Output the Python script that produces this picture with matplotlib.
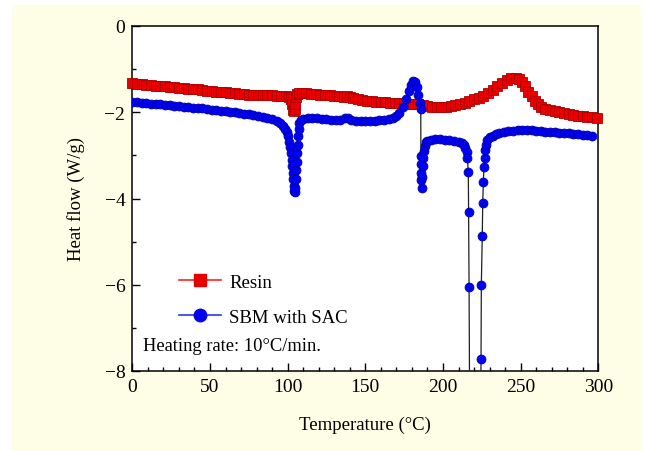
import matplotlib
matplotlib.use("Agg")
import matplotlib.pyplot as plt
from matplotlib.lines import Line2D
from matplotlib.patches import Rectangle
from matplotlib.ticker import MultipleLocator

# ---------------- data ----------------
resin_T = [0, 3, 6, 9, 12, 15, 18, 21, 24, 27, 30, 33, 36, 39, 42, 45, 48, 51, 54, 57,
           60, 63, 66, 69, 72, 75, 78, 81, 84, 87, 90, 93, 96, 99, 101, 102, 103, 103.5,
           104, 104.5, 105, 105.5, 106, 107, 109, 112, 115, 118, 121, 124, 127, 130, 133,
           136, 138, 140, 142, 145, 148, 151, 154, 157, 160, 163, 166, 169, 172, 175, 178,
           181, 184, 187, 190, 193, 196, 199, 202, 205, 208, 211, 214, 217, 220, 223, 226,
           229, 232, 235, 238, 241, 244, 247, 249, 251, 253, 255, 257, 259, 261, 263, 266,
           269, 272, 275, 278, 281, 284, 287, 290, 293, 296, 299]
resin_H = [-1.33, -1.34, -1.35, -1.36, -1.37, -1.38, -1.39, -1.40, -1.41, -1.42, -1.43,
           -1.44, -1.45, -1.46, -1.47, -1.48, -1.50, -1.51, -1.52, -1.53, -1.54, -1.55,
           -1.56, -1.57, -1.58, -1.59, -1.60, -1.60, -1.61, -1.61, -1.61, -1.62, -1.62,
           -1.62, -1.64, -1.70, -1.82, -1.95, -1.98, -1.92, -1.80, -1.65, -1.58, -1.56,
           -1.55, -1.56, -1.57, -1.58, -1.59, -1.60, -1.61, -1.62, -1.63, -1.64, -1.62,
           -1.64, -1.67, -1.70, -1.72, -1.74, -1.75, -1.76, -1.77, -1.77, -1.78, -1.78,
           -1.79, -1.80, -1.80, -1.81, -1.82, -1.83, -1.85, -1.87, -1.88, -1.88, -1.88,
           -1.86, -1.84, -1.81, -1.78, -1.74, -1.70, -1.66, -1.62, -1.56, -1.48, -1.40,
           -1.32, -1.25, -1.21, -1.20, -1.22, -1.30, -1.40, -1.52, -1.63, -1.73, -1.81,
           -1.87, -1.92, -1.95, -1.98, -2.00, -2.02, -2.04, -2.06, -2.08, -2.09, -2.11,
           -2.12, -2.14]

sbm_T = [0, 3, 6, 9, 12, 15, 18, 21, 24, 27, 30, 33, 36, 39, 42, 45, 48, 51, 54, 57, 60,
         63, 66, 69, 72, 75, 78, 81, 84, 87, 90, 93, 95, 97, 98.5, 99.5, 100.5, 101.2,
         101.8, 102.3, 102.7, 103.0, 103.3, 103.6, 103.9, 104.2, 104.5, 104.9, 105.2,
         105.5, 105.8, 106.1, 106.4, 106.7, 107.1, 107.6, 108.5, 110, 113, 116, 119, 122,
         125, 128, 131, 134, 137, 139, 141, 144, 147, 150, 153, 156, 159, 162, 165, 168,
         170, 172, 174, 176, 178, 179.5, 181, 182, 183, 184, 185, 185.7, 185.8, 185.9,
         186.0, 186.1, 186.2, 186.6, 187.0, 187.4, 187.8, 188.3, 189, 190, 192, 195, 198,
         201, 204, 207, 210, 212, 213.5, 214.5, 215.2, 215.7, 216.3, 216.5, 216.8, 217.6,
         223.6, 224.5, 224.7, 225.3, 225.6, 226.0, 226.4, 226.8, 227.2, 227.8, 228.6, 230,
         232, 234, 236, 239, 242, 245, 248, 251, 254, 257, 260, 263, 266, 269, 272, 275,
         278, 281, 284, 287, 290, 293, 296]
sbm_H = [-1.76, -1.77, -1.78, -1.79, -1.80, -1.81, -1.82, -1.83, -1.84, -1.85, -1.86,
         -1.87, -1.88, -1.89, -1.90, -1.91, -1.92, -1.94, -1.95, -1.96, -1.98, -1.99,
         -2.00, -2.02, -2.03, -2.05, -2.06, -2.08, -2.10, -2.13, -2.16, -2.20, -2.25,
         -2.31, -2.38, -2.46, -2.56, -2.68, -2.80, -2.95, -3.10, -3.25, -3.40, -3.55,
         -3.70, -3.82, -3.86, -3.75, -3.55, -3.35, -3.15, -2.95, -2.75, -2.55, -2.38,
         -2.25, -2.18, -2.15, -2.14, -2.14, -2.14, -2.15, -2.16, -2.17, -2.18, -2.18,
         -2.14, -2.13, -2.17, -2.20, -2.21, -2.21, -2.21, -2.20, -2.19, -2.18, -2.16,
         -2.13, -2.09, -2.01, -1.88, -1.70, -1.50, -1.36, -1.28, -1.30, -1.42, -1.60,
         -1.78, -1.93, -3.02, -3.20, -3.40, -3.58, -3.76, -3.50, -3.25, -3.05, -2.90,
         -2.78, -2.70, -2.66, -2.64, -2.63, -2.63, -2.64, -2.65, -2.66, -2.68, -2.71,
         -2.76, -2.83, -2.92, -3.05, -3.38, -4.31, -6.05, -12.0, -12.0, -7.73, -6.00,
         -4.87, -4.11, -3.61, -3.28, -3.05, -2.88, -2.75, -2.65, -2.58, -2.54, -2.50,
         -2.47, -2.45, -2.44, -2.43, -2.42, -2.42, -2.42, -2.42, -2.43, -2.44, -2.45,
         -2.45, -2.46, -2.47, -2.48, -2.49, -2.50, -2.51, -2.52, -2.53, -2.54]

x_ticks = [0, 50, 100, 150, 200, 250, 300]
y_ticks = [0, -2, -4, -6, -8]
labels = ["Resin", "SBM with SAC"]

# ---------------- figure ----------------
plt.rcParams['font.family'] = ['Liberation Serif', 'DejaVu Serif']

fig = plt.figure(figsize=(6.45, 4.52), dpi=100)
fig.patch.set_facecolor('white')
fig.patches.append(Rectangle((12 / 645, 0), (641 - 12) / 645, 1 - 6 / 452,
                             transform=fig.transFigure, facecolor='#fefee6',
                             edgecolor='none', zorder=-10))

ax = fig.add_axes([132.3 / 645, 1 - 372 / 452, (598.3 - 132.3) / 645, (372 - 27) / 452])
ax.set_facecolor('white')

red_face, red_edge = '#e60000', '#b00000'
blue_face, blue_edge = '#0000f0', '#0000b0'

ax.plot(resin_T, resin_H, color='#303030', lw=0.9, marker='s', ms=6.6,
        markerfacecolor=red_face, markeredgecolor=red_edge, markeredgewidth=0.6,
        zorder=3, clip_on=False)
ax.plot(sbm_T, sbm_H, color='#202020', lw=0.9, marker='o', ms=6.4,
        markerfacecolor=blue_face, markeredgecolor=blue_edge, markeredgewidth=0.6,
        zorder=4)

ax.set_xlim(0, 300)
ax.set_ylim(-8, 0)
ax.set_xticks(x_ticks)
ax.set_yticks(y_ticks)
ax.set_yticklabels(['0', '\u22122', '\u22124', '\u22126', '\u22128'])
ax.xaxis.set_minor_locator(MultipleLocator(10))
ax.yaxis.set_minor_locator(MultipleLocator(1))
ax.tick_params(which='both', direction='in', top=False, right=False, labelsize=14,
               width=1.0, colors='black')
ax.tick_params(which='major', length=5.5, pad=5)
ax.tick_params(which='minor', length=3)
for s in ax.spines.values():
    s.set_linewidth(1.1)

ax.set_xlabel('Temperature (\u00b0C)', fontsize=13.5, labelpad=15)
ax.set_ylabel('Heat flow (W/g)', fontsize=13.5, labelpad=14)

handles = [
    Line2D([], [], color='#ff2020', lw=1.2, marker='s', ms=9,
           markerfacecolor=red_face, markeredgecolor=red_face),
    Line2D([], [], color='#3030ff', lw=1.2, marker='o', ms=9,
           markerfacecolor=blue_face, markeredgecolor=blue_face),
]
ax.legend(handles, labels, loc='center left', bbox_to_anchor=(0.065, 0.207),
          frameon=False, fontsize=13.5, handlelength=2.2, handletextpad=0.45,
          labelspacing=0.95)

ax.text(0.022, 0.075, 'Heating rate: 10\u00b0C/min.', transform=ax.transAxes,
        fontsize=13.3, ha='left', va='center')

fig.savefig('out.png', dpi=100, facecolor=fig.get_facecolor())
